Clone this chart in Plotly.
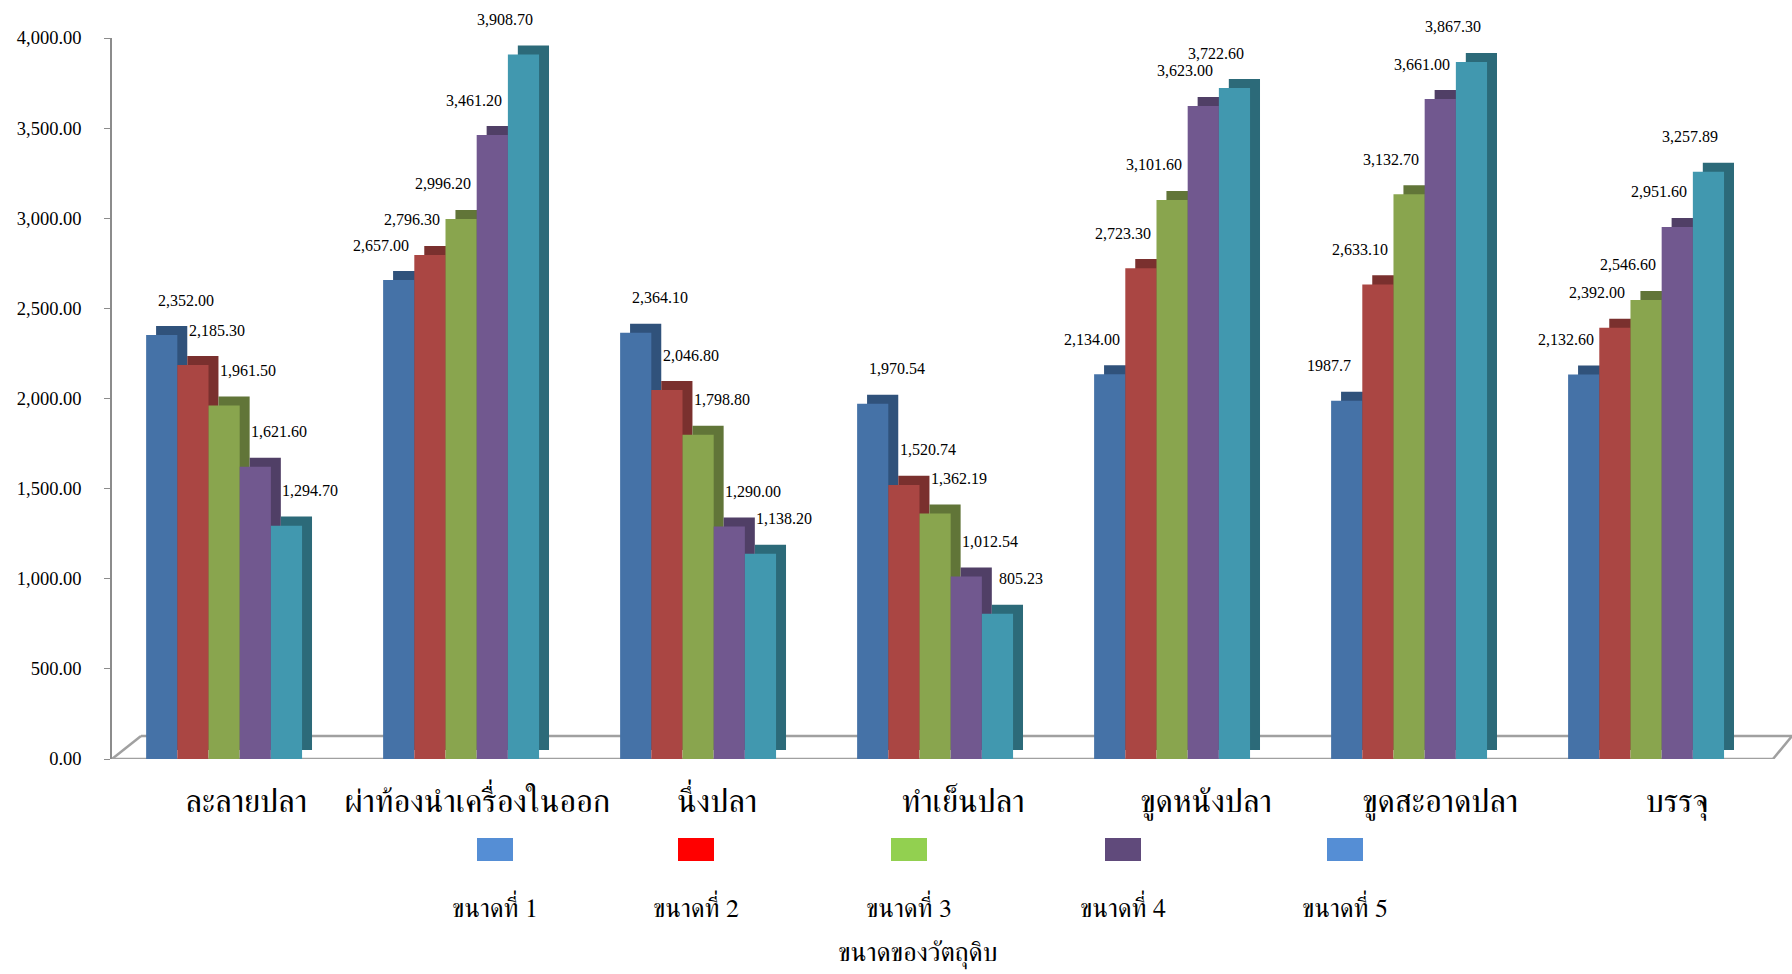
import plotly.graph_objects as go

# Processing steps (x categories)
categories = ["ละลายปลา", "ผ่าท้องนำเครื่องในออก", "นึ่งปลา", "ทำเย็นปลา",
              "ขูดหนังปลา", "ขูดสะอาดปลา", "บรรจุ"]

# Raw-material sizes (series)
size_names = ["ขนาดที่ 1", "ขนาดที่ 2", "ขนาดที่ 3", "ขนาดที่ 4", "ขนาดที่ 5"]

size1 = [2352.00, 2657.00, 2364.10, 1970.54, 2134.00, 1987.7, 2132.60]
size2 = [2185.30, 2796.30, 2046.80, 1520.74, 2723.30, 2633.10, 2392.00]
size3 = [1961.50, 2996.20, 1798.80, 1362.19, 3101.60, 3132.70, 2546.60]
size4 = [1621.60, 3461.20, 1290.00, 1012.54, 3623.00, 3661.00, 2951.60]
size5 = [1294.70, 3908.70, 1138.20, 805.23, 3722.60, 3867.30, 3257.89]

y_ticks = [0, 500, 1000, 1500, 2000, 2500, 3000, 3500, 4000]
x_title = "ขนาดของวัตถุดิบ"

# cells whose label is shown as a plain number (no grouping / fixed decimals)
plain_label_cells = [(0, 5)]

series = [size1, size2, size3, size4, size5]
face_colors = ["#4572A7", "#AA4643", "#89A54E", "#71588F", "#4198AF"]
depth_colors = ["#30527B", "#7A302E", "#617538", "#503F66", "#2C6A79"]
legend_colors = ["#558ED5", "#FF0000", "#92D050", "#604A7B", "#558ED5"]

W, H = 1792, 974
L, R, T, B = 112, 17, 38, 215
plot_w = W - L - R
plot_h = H - T - B


def px_x(px):
    return (px - L) / plot_w


def px_y(py):
    return (H - B - py) / plot_h


thai_font = "FreeSerif, Noto Serif Thai, serif"
num_font = "Liberation Serif"

bar_w = 0.1316
dx = 0.042          # depth offset in category units
dy = 50             # depth offset in value units
n = len(series)
first_off = -n * bar_w / 2
# horizontal nudge of each category label (perspective of the 3-D floor)
label_nudge = [0.093, 0.068, 0.080, 0.118, 0.143, 0.131, 0.131]

fig = go.Figure()
xs = list(range(len(categories)))

# extruded depth (side + top faces) behind each bar
for i, vals in enumerate(series):
    fig.add_trace(go.Bar(
        x=xs, y=vals, base=dy, offset=first_off + i * bar_w + dx, width=bar_w,
        marker=dict(color=depth_colors[i], line=dict(width=0)),
        showlegend=False, hoverinfo="skip"))

# front faces
for i, vals in enumerate(series):
    fig.add_trace(go.Bar(
        x=xs, y=vals, offset=first_off + i * bar_w, width=bar_w,
        name=size_names[i],
        marker=dict(color=face_colors[i], line=dict(width=0)),
        showlegend=False))

# value labels
annotations = []
for c in xs:
    rising = series[-1][c] > series[0][c]
    shift = -18 if rising else 24
    for i, vals in enumerate(series):
        v = vals[c]
        text = str(v) if (i, c) in plain_label_cells else f"{v:,.2f}"
        annotations.append(dict(
            x=c + first_off + (i + 0.5) * bar_w, y=v, xref="x", yref="y",
            text=text, showarrow=False, xshift=shift, yshift=35,
            xanchor="center", yanchor="middle",
            font=dict(family=num_font, size=16, color="#000")))

# legend: swatch above each name
leg_x = [495, 696, 909, 1123, 1345]
shapes = []
for i, name in enumerate(size_names):
    cx = leg_x[i]
    shapes.append(dict(type="rect", xref="paper", yref="paper",
                       x0=px_x(cx - 18), x1=px_x(cx + 18),
                       y0=px_y(861), y1=px_y(838),
                       fillcolor=legend_colors[i], line=dict(width=0)))
    annotations.append(dict(x=px_x(cx), y=px_y(906), xref="paper", yref="paper",
                            text=name, showarrow=False,
                            xanchor="center", yanchor="middle",
                            font=dict(family=thai_font, size=26, color="#000")))

annotations.append(dict(x=px_x(917), y=px_y(955), xref="paper", yref="paper",
                        text=x_title, showarrow=False,
                        xanchor="center", yanchor="middle",
                        font=dict(family=thai_font, size=26.5, color="#000")))

# floor of the 3-D plot area
floor_col = "#A0A0A0"
back_y = (759 - 736) * 4000 / plot_h
for x0, y0, x1, y1 in [
        (0, 0, px_x(1773), 0),
        (px_x(1773), 0, px_x(1792), back_y),
        (0, 0, px_x(141), back_y),
        (px_x(141), back_y, px_x(1792), back_y)]:
    shapes.append(dict(type="line", xref="paper", yref="y", x0=x0, y0=y0,
                       x1=x1, y1=y1, layer="below",
                       line=dict(color=floor_col, width=2.5)))

fig.update_layout(
    width=W, height=H, autosize=False,
    margin=dict(l=L, r=R, t=T, b=B),
    paper_bgcolor="white", plot_bgcolor="white",
    barmode="overlay",
    showlegend=False,
    annotations=annotations,
    shapes=shapes,
    xaxis=dict(range=[-0.473, 6.544], tickmode="array",
               tickvals=[c + label_nudge[c] for c in xs], ticktext=categories,
               showgrid=False, zeroline=False, showline=False, ticks="",
               tickangle=0, automargin=False,
               ticklabelstandoff=19,
               tickfont=dict(family=thai_font, size=32.5, color="#000")),
    yaxis=dict(range=[0, 4000], tickmode="array", tickvals=y_ticks,
               tickformat=",.2f", showgrid=False, zeroline=False,
               showline=True, linecolor="#8C8C8C", linewidth=1.5,
               ticks="outside", ticklen=6, tickcolor="#8C8C8C",
               ticklabelstandoff=19, automargin=False,
               tickfont=dict(family=num_font, size=18.5, color="#000")),
)

fig.write_html("out.html")
